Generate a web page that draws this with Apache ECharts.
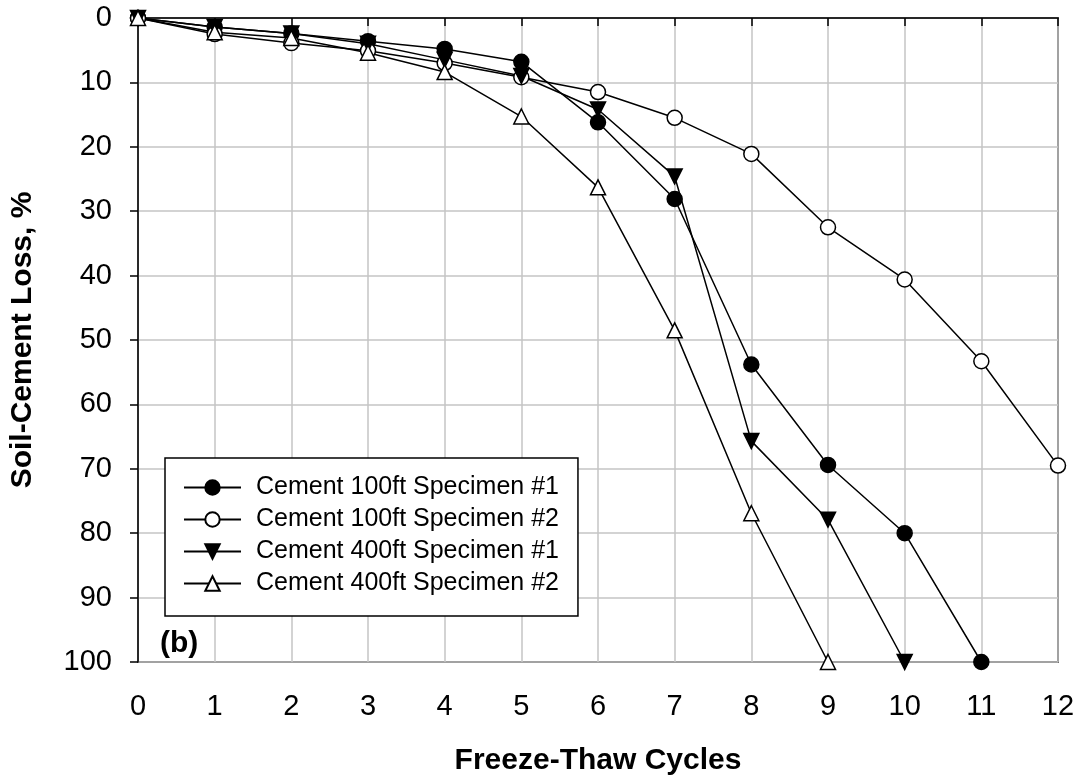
<!DOCTYPE html>
<html>
<head>
<meta charset="utf-8">
<script src="https://cdn.jsdelivr.net/npm/echarts@6/dist/echarts.min.js"></script>
<style>
  html, body { margin: 0; padding: 0; background: #fff; }
  #chart { width: 1079px; height: 781px; }
</style>
</head>
<body>
<div id="chart"></div>
<script>
// Freeze-thaw cycles (x) and cumulative soil-cement loss in percent (y)
const cycles = [0, 1, 2, 3, 4, 5, 6, 7, 8, 9, 10, 11, 12];
const cement100Spec1 = [0, 1.4, 2.4, 3.6, 4.8, 6.8, 16.2, 28.1, 53.8, 69.4, 80.0, 100];
const cement100Spec2 = [0, 2.5, 3.9, 5.1, 7.0, 9.2, 11.5, 15.5, 21.1, 32.5, 40.6, 53.3, 69.5];
const cement400Spec1 = [0, 1.4, 2.4, 4.0, 6.5, 9.0, 14.2, 24.6, 65.7, 77.9, 100];
const cement400Spec2 = [0, 2.2, 3.1, 5.4, 8.4, 15.3, 26.3, 48.5, 76.9, 100];
const seriesNames = [
  'Cement 100ft Specimen #1',
  'Cement 100ft Specimen #2',
  'Cement 400ft Specimen #1',
  'Cement 400ft Specimen #2'
];
const xTicks = { min: 0, max: 12, interval: 1 };
const yTicks = { min: 0, max: 100, interval: 10 };

const FONT = '"Liberation Sans", Arial, Helvetica, sans-serif';

function pairs(values) {
  return values.map((v, i) => [cycles[i], v]);
}

function makeSeries(name, values, symbol, rotate, filled) {
  return {
    name: name,
    type: 'line',
    data: pairs(values),
    symbol: symbol,
    symbolRotate: rotate,
    symbolSize: 15,
    showAllSymbol: true,
    lineStyle: { color: '#000', width: 1.5 },
    itemStyle: {
      color: filled ? '#000' : '#fff',
      borderColor: '#000',
      borderWidth: 1.5
    },
    emphasis: { disabled: true },
    animation: false
  };
}

const chart = echarts.init(document.getElementById('chart'), null, { renderer: 'canvas' });

chart.setOption({
  backgroundColor: '#fff',
  animation: false,
  textStyle: { fontFamily: FONT },
  grid: {
    left: 138, right: 21, top: 18, bottom: 119,
    show: true, borderColor: '#000', borderWidth: 1.5, backgroundColor: '#fff'
  },
  xAxis: {
    type: 'value',
    min: xTicks.min, max: xTicks.max, interval: xTicks.interval,
    name: 'Freeze-Thaw Cycles',
    nameLocation: 'middle',
    nameGap: 84,
    nameTextStyle: { fontFamily: FONT, fontWeight: 'bold', fontSize: 30, color: '#000' },
    axisLine: { show: true, lineStyle: { color: '#000', width: 1.5 } },
    axisTick: { show: true, inside: false, length: 8, lineStyle: { color: '#000', width: 1.5 } },
    axisLabel: { fontFamily: FONT, fontSize: 29, color: '#000', margin: 30 },
    splitLine: { show: true, lineStyle: { color: '#c4c4c4', width: 1.5 } }
  },
  yAxis: {
    type: 'value',
    inverse: true,
    min: yTicks.min, max: yTicks.max, interval: yTicks.interval,
    name: 'Soil-Cement Loss, %',
    nameLocation: 'middle',
    nameGap: 100,
    nameRotate: 90,
    nameTextStyle: { fontFamily: FONT, fontWeight: 'bold', fontSize: 30, color: '#000' },
    axisLine: { show: true, lineStyle: { color: '#000', width: 1.5 } },
    axisTick: { show: true, inside: false, length: 8, lineStyle: { color: '#000', width: 1.5 } },
    axisLabel: { fontFamily: FONT, fontSize: 29, color: '#000', margin: 26 },
    splitLine: { show: true, lineStyle: { color: '#c4c4c4', width: 1.5 } }
  },
  legend: {
    orient: 'vertical',
    left: 165, top: 458,
    padding: [17, 19, 20, 18],
    backgroundColor: '#fff',
    borderColor: '#000',
    borderWidth: 1.5,
    borderRadius: 0,
    itemWidth: 57,
    itemHeight: 18,
    itemGap: 7,
    selectedMode: false,
    textStyle: { fontFamily: FONT, fontSize: 25, color: '#000', padding: [0, 0, 0, 10] },
    data: seriesNames
  },
  graphic: [{
    type: 'text',
    left: 160, top: 629,
    z: 100,
    style: { text: '(b)', font: 'bold 30px ' + FONT, fill: '#000' }
  }],
  series: [
    makeSeries(seriesNames[0], cement100Spec1, 'circle', 0, true),
    makeSeries(seriesNames[1], cement100Spec2, 'circle', 0, false),
    makeSeries(seriesNames[2], cement400Spec1, 'triangle', 180, true),
    makeSeries(seriesNames[3], cement400Spec2, 'triangle', 0, false)
  ]
});
</script>
</body>
</html>
